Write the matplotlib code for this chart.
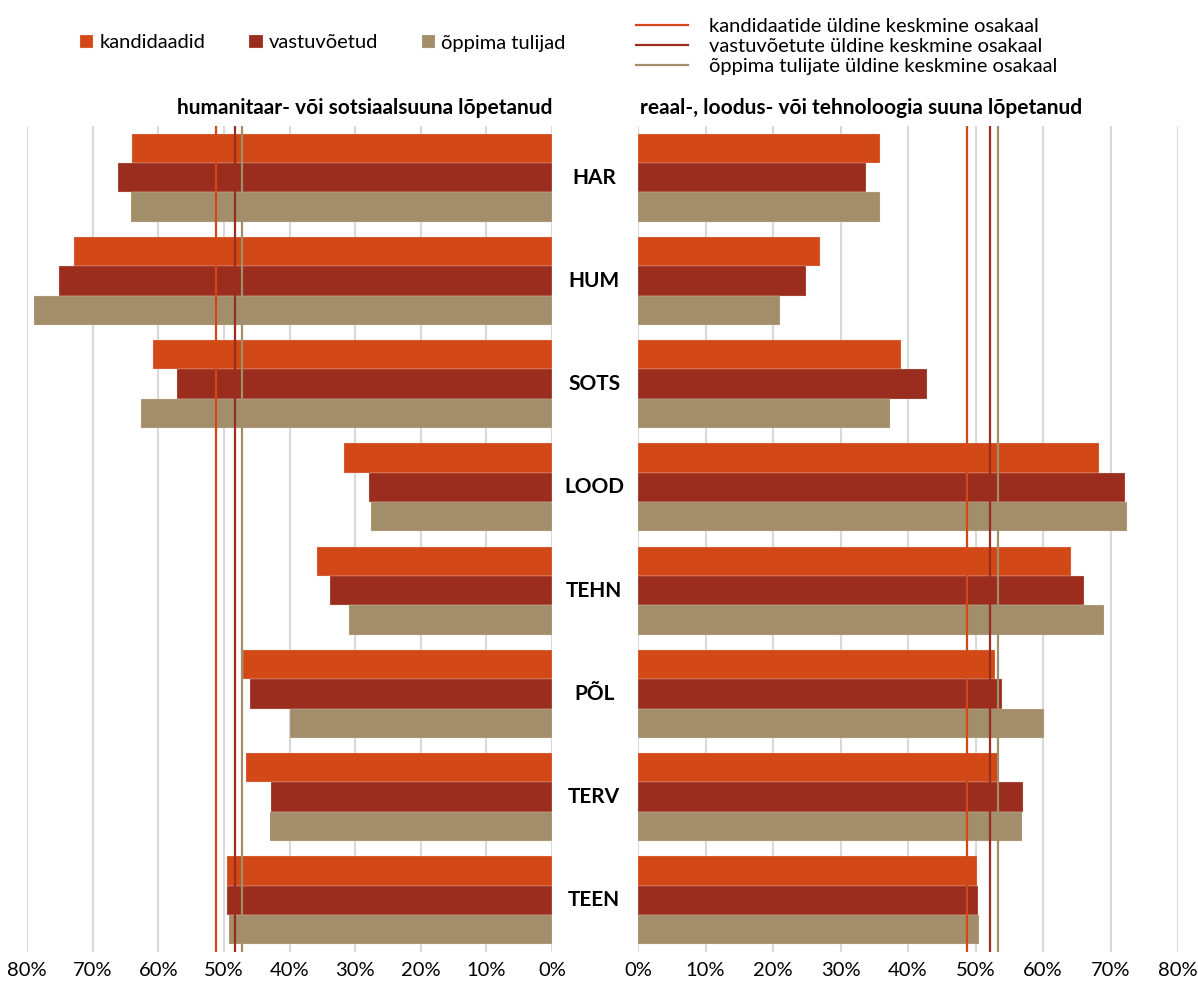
import numpy as np
import matplotlib.pyplot as plt
from matplotlib.lines import Line2D

plt.rcParams['font.family'] = ['Lato', 'DejaVu Sans']

categories = ["HAR", "HUM", "SOTS", "LOOD", "TEHN", "PÕL", "TERV", "TEEN"]
series = ["kandidaadid", "vastuvõetud", "õppima tulijad"]
colors = ["#D34817", "#9B2D1F", "#A28E6A"]

# humanitaar- või sotsiaalsuuna lõpetanud (%)
hum_kand = [64.0, 72.9, 60.8, 31.7, 35.8, 47.1, 46.6, 49.5]
hum_vast = [66.2, 75.2, 57.2, 27.9, 33.8, 46.0, 42.8, 49.5]
hum_opp = [64.2, 79.0, 62.7, 27.6, 30.9, 39.9, 43.0, 49.2]

# reaal-, loodus- või tehnoloogia suuna lõpetanud (%)
rea_kand = [35.9, 27.0, 39.0, 68.3, 64.1, 52.9, 53.3, 50.2]
rea_vast = [33.8, 24.9, 42.8, 72.1, 66.1, 53.9, 57.0, 50.4]
rea_opp = [35.9, 21.0, 37.3, 72.4, 69.0, 60.1, 56.9, 50.5]

# üldine keskmine osakaal
hum_avg = [51.2, 48.3, 47.3]
rea_avg = [48.7, 52.1, 53.3]
avg_labels = ["kandidaatide üldine keskmine osakaal",
              "vastuvõetute üldine keskmine osakaal",
              "õppima tulijate üldine keskmine osakaal"]

fig = plt.figure(figsize=(11.98, 9.92), dpi=100)
ax_l = fig.add_axes([27 / 1198, 40 / 992, 525 / 1198, 826 / 992])
ax_r = fig.add_axes([638 / 1198, 40 / 992, 540 / 1198, 826 / 992])

y = np.arange(len(categories))
h = 0.284
ticks = np.arange(0, 81, 10)

for ax, data, avgs in [(ax_l, [hum_kand, hum_vast, hum_opp], hum_avg),
                       (ax_r, [rea_kand, rea_vast, rea_opp], rea_avg)]:
    bars = []
    for k in range(3):
        b = ax.barh(y + (k - 1) * h, data[k], height=h, color=colors[k],
                    edgecolor='#E8D8CC', linewidth=0.2, label=series[k], zorder=2)
        bars.append(b)
    for k in range(3):
        ax.axvline(avgs[k], color=colors[k], lw=1.6, zorder=3)
    ax.set_ylim(7.5, -0.5)
    ax.set_xticks(ticks)
    ax.set_xticklabels([f"{t}%" for t in ticks], fontsize=14.5)
    ax.set_yticks([])
    ax.grid(axis='x', color='#D9D9D9', lw=1.5, zorder=0)
    ax.set_axisbelow(True)
    for s in ax.spines.values():
        s.set_visible(False)
    ax.tick_params(axis='x', length=0, pad=7)

ax_l.set_xlim(80, 0)
ax_r.set_xlim(0, 80)

for i, c in enumerate(categories):
    ax_r.text(-6.5, i, c, ha='center', va='center', fontsize=15,
              fontweight='bold', clip_on=False)

ax_l.text(0, 1.022, "humanitaar- või sotsiaalsuuna lõpetanud", ha='right', va='center',
          fontsize=15, fontweight='bold', transform=ax_l.get_xaxis_transform())
ax_r.text(0.3, 1.022, "reaal-, loodus- või tehnoloogia suuna lõpetanud", ha='left', va='center',
          fontsize=15, fontweight='bold', transform=ax_r.get_xaxis_transform())

fig.legend(handles=bars, loc='center', bbox_to_anchor=(323 / 1198, 1 - 43 / 992), ncol=3,
           frameon=False, fontsize=14.5, handlelength=0.65, handleheight=0.65,
           handletextpad=0.3, columnspacing=2.2)

line_handles = [Line2D([0], [0], color=colors[k], lw=1.6) for k in range(3)]
fig.legend(handles=line_handles, labels=avg_labels, loc='upper left',
           bbox_to_anchor=(618 / 1198, 1.0), frameon=False, fontsize=14.5,
           handlelength=2.6, handletextpad=1.0, labelspacing=0.15)

fig.savefig("out.png", dpi=100)
